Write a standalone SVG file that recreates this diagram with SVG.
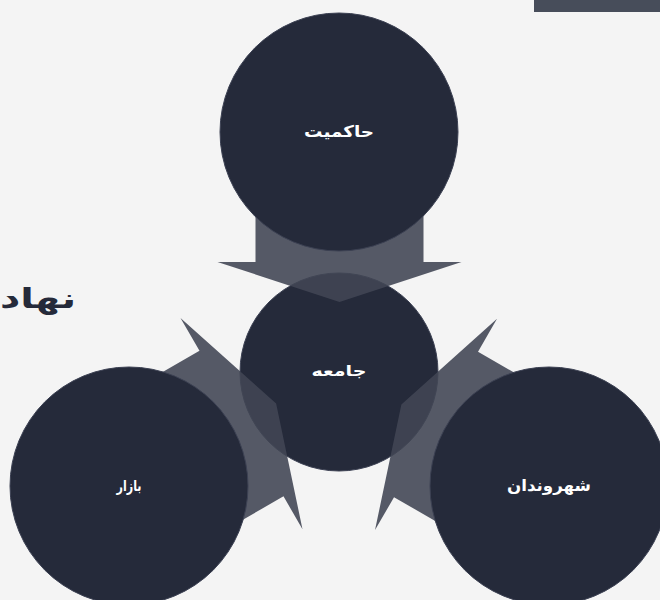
<svg xmlns="http://www.w3.org/2000/svg" width="660" height="600" viewBox="0 0 660 600">
<defs>
<style>
.node{fill:#252a3a;stroke:#3c4153;stroke-width:1}
.lbl{fill:#ffffff;font-family:"DejaVu Sans",sans-serif;font-weight:bold;text-anchor:middle}
.arr{fill:#414654;fill-opacity:0.89}
</style>
<path id="arrowShape" d="M0,0 L122,-40 L84,-40 L84,-135 L-84,-135 L-84,-40 L-122,-40 Z"/>
</defs>
<rect x="0" y="0" width="660" height="600" fill="#f4f4f4"/>
<rect x="534" y="0" width="126" height="12" fill="#474d5a"/>
<text x="0" y="308" font-family="DejaVu Sans,sans-serif" font-weight="bold" font-size="28" fill="#252a3a" textLength="76" lengthAdjust="spacingAndGlyphs">نهاد</text>
<g id="node-jameeh">
<circle class="node" cx="339" cy="372" r="99"/>
<text class="lbl" x="339" y="376" font-size="15" textLength="55" lengthAdjust="spacingAndGlyphs">جامعه</text>
</g>
<g id="connectors">
<use href="#arrowShape" class="arr" transform="translate(339.5,302)"/>
<use href="#arrowShape" class="arr" transform="translate(-2,-3) rotate(-120 339 372) translate(339.5,302)"/>
<use href="#arrowShape" class="arr" transform="translate(2,-3) rotate(120 339 372) translate(339.5,302)"/>
</g>
<g id="node-hakemiyat">
<circle class="node" cx="339" cy="132" r="119"/>
<text class="lbl" x="339" y="137" font-size="16" textLength="70" lengthAdjust="spacingAndGlyphs">حاکمیت</text>
</g>
<g id="node-bazar">
<circle class="node" cx="129" cy="486" r="119"/>
<text class="lbl" x="129" y="491" font-size="15" textLength="25" lengthAdjust="spacingAndGlyphs">بازار</text>
</g>
<g id="node-shahrvandan">
<circle class="node" cx="549" cy="486" r="119"/>
<text class="lbl" x="549" y="491" font-size="16" textLength="84" lengthAdjust="spacingAndGlyphs">شهروندان</text>
</g>
</svg>
